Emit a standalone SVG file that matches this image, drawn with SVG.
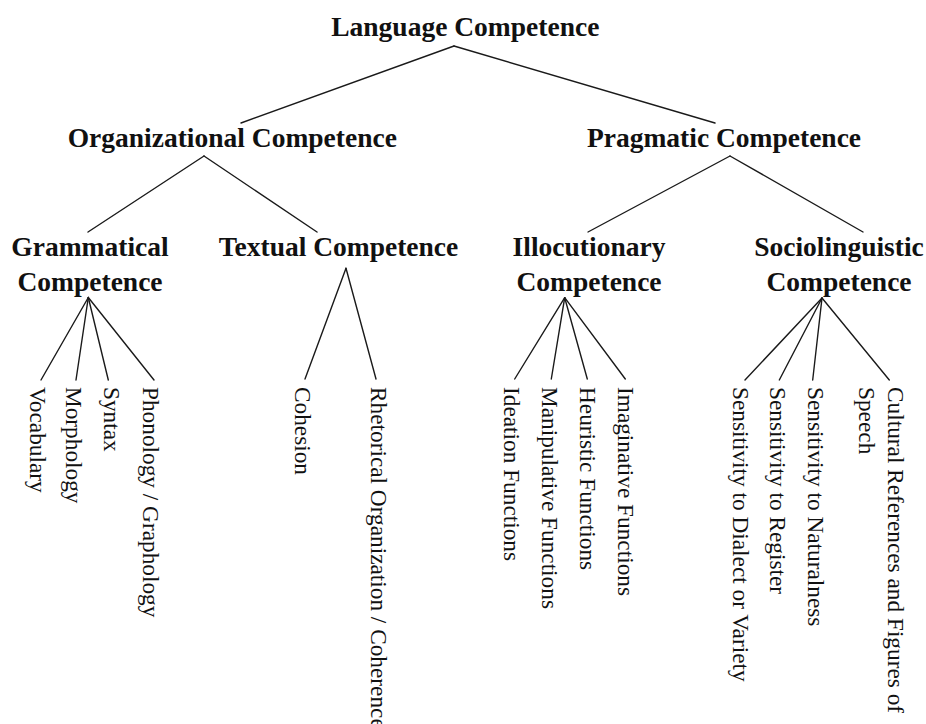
<svg xmlns="http://www.w3.org/2000/svg" width="926" height="724" viewBox="0 0 926 724">
<style>
.h{font-family:"Liberation Serif","Times New Roman",serif;font-weight:bold;font-size:27.5px;fill:#111;text-anchor:middle}
.l{font-family:"Liberation Serif","Times New Roman",serif;font-size:23.3px;fill:#111}
.c line{stroke:#1a1a1a;stroke-width:1.4;stroke-linecap:round}
</style>
<rect width="926" height="724" fill="#fff"/>
<g id="connectors" class="c">
<line x1="454" y1="46" x2="241" y2="123"/>
<line x1="454" y1="46" x2="715" y2="123"/>
<line x1="204" y1="156" x2="88" y2="232"/>
<line x1="204" y1="156" x2="317" y2="232"/>
<line x1="730" y1="156" x2="588" y2="232"/>
<line x1="730" y1="156" x2="863" y2="232"/>
<line x1="88.3" y1="297.5" x2="41" y2="380"/>
<line x1="88.3" y1="297.5" x2="76" y2="380"/>
<line x1="88.3" y1="297.5" x2="108.3" y2="380"/>
<line x1="88.3" y1="297.5" x2="154" y2="380"/>
<line x1="346" y1="268.3" x2="305" y2="379"/>
<line x1="346" y1="268.3" x2="376" y2="379"/>
<line x1="564.7" y1="297.7" x2="514.7" y2="379"/>
<line x1="564.7" y1="297.7" x2="551.3" y2="379"/>
<line x1="564.7" y1="297.7" x2="587.3" y2="379"/>
<line x1="564.7" y1="297.7" x2="625.3" y2="379"/>
<line x1="822" y1="298" x2="745" y2="380"/>
<line x1="822" y1="298" x2="779.3" y2="380"/>
<line x1="822" y1="298" x2="812.7" y2="380"/>
<line x1="822" y1="298" x2="889.3" y2="380"/>
</g>
<g id="language"><text class="h" x="465.3" y="36">Language Competence</text></g>
<g id="organizational"><text class="h" x="232.3" y="146.5">Organizational Competence</text></g>
<g id="pragmatic"><text class="h" x="724" y="146.5">Pragmatic Competence</text></g>
<g id="grammatical"><text class="h" x="90" y="255.5">Grammatical</text><text class="h" x="90" y="290.5">Competence</text></g>
<g id="textual"><text class="h" x="338.5" y="255.5">Textual Competence</text></g>
<g id="illocutionary"><text class="h" x="589" y="255.5">Illocutionary</text><text class="h" x="589" y="290.5">Competence</text></g>
<g id="sociolinguistic"><text class="h" x="839" y="255.5">Sociolinguistic</text><text class="h" x="839" y="290.5">Competence</text></g>
<g id="vocabulary"><text class="l" transform="translate(29.5,387) rotate(90)">Vocabulary</text></g>
<g id="morphology"><text class="l" transform="translate(66,387) rotate(90)">Morphology</text></g>
<g id="syntax"><text class="l" transform="translate(103.5,387) rotate(90)">Syntax</text></g>
<g id="phonology"><text class="l" transform="translate(143,387) rotate(90)">Phonology / Graphology</text></g>
<g id="cohesion"><text class="l" transform="translate(295,387) rotate(90)">Cohesion</text></g>
<g id="rhetorical"><text class="l" transform="translate(370.5,387) rotate(90)">Rhetorical Organization / Coherence</text></g>
<g id="ideation"><text class="l" transform="translate(504,387) rotate(90)">Ideation Functions</text></g>
<g id="manipulative"><text class="l" transform="translate(541.5,387) rotate(90)">Manipulative Functions</text></g>
<g id="heuristic"><text class="l" transform="translate(580,387) rotate(90)">Heuristic Functions</text></g>
<g id="imaginative"><text class="l" transform="translate(618,387) rotate(90)">Imaginative Functions</text></g>
<g id="dialect"><text class="l" transform="translate(733,387) rotate(90)">Sensitivity to Dialect or Variety</text></g>
<g id="register"><text class="l" transform="translate(770,387) rotate(90)">Sensitivity to Register</text></g>
<g id="naturalness"><text class="l" transform="translate(808,387) rotate(90)">Sensitivity to Naturalness</text></g>
<g id="cultural"><text class="l" transform="translate(888,387) rotate(90)"><tspan x="0" y="0">Cultural References and Figures of</tspan><tspan x="0" y="29">Speech</tspan></text></g>
</svg>
